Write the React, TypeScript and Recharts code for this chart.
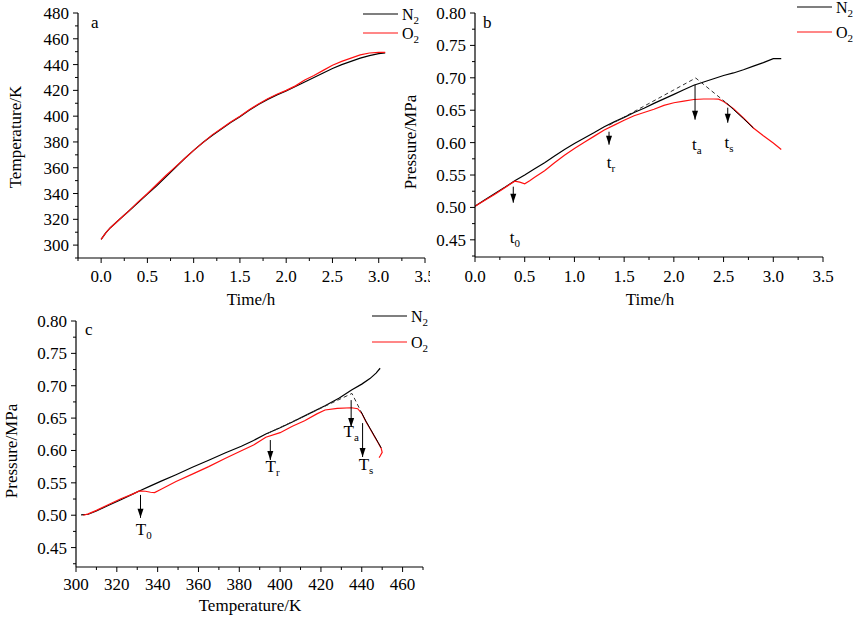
import React from 'react';
import { ComposedChart, Line, Scatter, XAxis, YAxis } from 'recharts';

const FONT = "'Liberation Serif', 'Times New Roman', serif";
const RED = '#ff1010';

// ---------- panel a: temperature vs time ----------
const timeA = [0, 0.05, 0.1, 0.2, 0.3, 0.4, 0.5, 0.6, 0.7, 0.8, 0.9, 1.0, 1.1, 1.2, 1.3, 1.4, 1.5, 1.6, 1.7, 1.8, 1.9, 2.0, 2.1, 2.2, 2.3, 2.4, 2.5, 2.6, 2.7, 2.8, 2.9, 3.0, 3.07];
const tempA_N2 = [304.4, 309.5, 313.5, 320, 326.5, 333, 339.5, 346, 353, 360, 367, 373.5, 379.5, 385, 390, 395, 399.5, 404.5, 409, 413, 416.5, 419.5, 423, 426.5, 430, 433.5, 437, 440, 442.5, 445, 447, 448.5, 449];
const tempA_O2 = [304.4, 309.5, 313.5, 320, 326.5, 333.5, 340, 347, 354, 360.5, 367, 373.5, 379.5, 385.5, 390.5, 395.5, 400, 405, 409.5, 413.5, 417, 420, 423.5, 428, 431.5, 435.5, 439.5, 442.5, 445, 447.5, 449, 449.5, 449.5];

// ---------- panel b: pressure vs time ----------
const timeB_N2 = [0, 0.1, 0.2, 0.3, 0.4, 0.5, 0.6, 0.7, 0.8, 0.9, 1.0, 1.1, 1.2, 1.3, 1.4, 1.5, 1.6, 1.7, 1.8, 1.9, 2.0, 2.1, 2.2, 2.3, 2.4, 2.5, 2.6, 2.7, 2.8, 2.9, 3.0, 3.08];
const presB_N2 = [0.502, 0.512, 0.5215, 0.531, 0.541, 0.55, 0.5595, 0.569, 0.5795, 0.5895, 0.5985, 0.607, 0.6155, 0.6245, 0.632, 0.639, 0.6465, 0.653, 0.6605, 0.6675, 0.6745, 0.6815, 0.6885, 0.6935, 0.6985, 0.7035, 0.7075, 0.7125, 0.718, 0.7235, 0.7295, 0.7295];
const timeB_O2 = [0, 0.1, 0.2, 0.3, 0.4, 0.45, 0.5, 0.55, 0.6, 0.7, 0.8, 0.9, 1.0, 1.1, 1.2, 1.3, 1.4, 1.5, 1.6, 1.7, 1.8, 1.9, 2.0, 2.1, 2.2, 2.3, 2.4, 2.45, 2.5, 2.6, 2.7, 2.8, 2.9, 3.0, 3.08];
const presB_O2 = [0.502, 0.511, 0.5205, 0.5305, 0.5405, 0.539, 0.5365, 0.541, 0.5465, 0.5565, 0.569, 0.5805, 0.591, 0.6005, 0.61, 0.6195, 0.627, 0.6345, 0.6415, 0.6465, 0.6515, 0.6575, 0.6615, 0.664, 0.6665, 0.6673, 0.6673, 0.667, 0.6635, 0.6525, 0.638, 0.6225, 0.6105, 0.5995, 0.5895];
const dashTimeB = [1.35, 2.22, 2.53];
const dashPresB = [0.627, 0.6997, 0.661];
const overTimeB = [2.53, 2.6, 2.7, 2.8];
const overPresB = [0.6611, 0.651, 0.637, 0.6225];
const arrowsB = [
  { x: 0.385, from: 0.532, to: 0.5073 },
  { x: 1.348, from: 0.6168, to: 0.5968 },
  { x: 2.213, from: 0.6893, to: 0.6354 },
  { x: 2.542, from: 0.6539, to: 0.6307 },
];
const labelsB = [
  { x: 0.402, y: 0.4456, main: 't', sub: '0' },
  { x: 1.368, y: 0.5613, main: 't', sub: 'r' },
  { x: 2.23, y: 0.589, main: 't', sub: 'a' },
  { x: 2.555, y: 0.5922, main: 't', sub: 's' },
];

// ---------- panel c: pressure vs temperature ----------
const tempC_N2 = [302.5, 306, 310, 316, 322, 328, 331, 336, 342, 349, 357, 365, 373, 381, 387, 393, 400, 406, 414, 422, 429, 435, 440, 444, 447, 449];
const presC_N2 = [0.5005, 0.5015, 0.5065, 0.5155, 0.524, 0.533, 0.5375, 0.5445, 0.553, 0.5625, 0.574, 0.585, 0.596, 0.6065, 0.6155, 0.6255, 0.635, 0.644, 0.6565, 0.669, 0.681, 0.6935, 0.7025, 0.711, 0.7195, 0.727];
const tempC_O2 = [303.5, 306, 310, 316, 322, 328, 331, 334, 336.5, 338.5, 341, 345, 349, 357, 365, 373, 381, 387, 393, 400, 406, 412, 418, 422, 428, 435, 438, 440, 442, 444, 446, 448, 449.5, 450, 449, 448.5];
const presC_O2 = [0.5, 0.502, 0.5075, 0.5165, 0.5255, 0.533, 0.5375, 0.537, 0.5355, 0.535, 0.539, 0.5455, 0.552, 0.5635, 0.575, 0.5875, 0.5995, 0.6085, 0.6205, 0.6275, 0.6375, 0.646, 0.6565, 0.6625, 0.665, 0.666, 0.6645, 0.6575, 0.645, 0.634, 0.623, 0.612, 0.6035, 0.597, 0.5915, 0.589];
const dashTempC = [394, 435.2, 439.7];
const dashPresC = [0.6265, 0.6881, 0.6597];
const overTempC = [439.7, 442, 444, 446, 448, 449.5];
const overPresC = [0.6597, 0.6455, 0.6345, 0.6235, 0.6125, 0.604];
const arrowsC = [
  { x: 331.6, from: 0.5314, to: 0.4959 },
  { x: 395.2, from: 0.6161, to: 0.5853 },
  { x: 434.8, from: 0.6778, to: 0.6362 },
  { x: 440.4, from: 0.6423, to: 0.5899 },
];
const labelsC = [
  { x: 333.2, y: 0.4697, main: 'T', sub: '0' },
  { x: 396.3, y: 0.5673, main: 'T', sub: 'r' },
  { x: 434.8, y: 0.6212, main: 'T', sub: 'a' },
  { x: 442.1, y: 0.5699, main: 'T', sub: 's' },
];

// ticks (every minor step; majors get labels)
const steps = (lo: number, hi: number, step: number) => {
  const out: number[] = [];
  for (let v = lo; v <= hi + step / 1000; v += step) out.push(Math.round(v * 1000) / 1000);
  return out;
};
const xTicksA = steps(-0.25, 3.5, 0.25);
const yTicksA = steps(290, 480, 10);
const xTicksB = steps(0, 3.5, 0.25);
const yTicksPres = steps(0.425, 0.8, 0.025);
const xTicksC = steps(300, 470, 10);

const pts = (xs: number[], ys: number[]) => xs.map((x, i) => ({ x, y: ys[i] }));
const isMajor = (v: number, m: number) => Math.abs(v / m - Math.round(v / m)) < 1e-6;

const makeXTick = (axisY: number, major: number, fmt: (v: number) => string, dy: number) => (p: any) => {
  const v = p.payload.value;
  const maj = isMajor(v, major);
  return (
    <g key={`x${v}`}>
      <line x1={p.x} x2={p.x} y1={axisY} y2={axisY + (maj ? 5 : 3)} stroke="#000" strokeWidth={1} />
      {maj && (
        <text x={p.x} y={axisY + dy} textAnchor="middle" fontSize={17} fontFamily={FONT} fill="#000">
          {fmt(v)}
        </text>
      )}
    </g>
  );
};

const makeYTick = (axisX: number, major: number, fmt: (v: number) => string) => (p: any) => {
  const v = p.payload.value;
  const maj = isMajor(v, major);
  return (
    <g key={`y${v}`}>
      <line x1={axisX} x2={axisX - (maj ? 5 : 3)} y1={p.y} y2={p.y} stroke="#000" strokeWidth={1} />
      {maj && (
        <text x={axisX - 9} y={p.y + 6} textAnchor="end" fontSize={17} fontFamily={FONT} fill="#000">
          {fmt(v)}
        </text>
      )}
    </g>
  );
};

const arrowDot = (p: any) => {
  if (p.index !== 1) return <g key={`d${p.index}`} />;
  return (
    <path
      key={`d${p.index}`}
      d={`M${p.cx},${p.cy} L${p.cx - 3},${p.cy - 9} L${p.cx + 3},${p.cy - 9} Z`}
      fill="#000"
    />
  );
};

const labelShape = (p: any) => (
  <text x={p.cx} y={p.cy} textAnchor="middle" fontSize={17} fontFamily={FONT} fill="#000">
    {p.payload.main}
    <tspan fontSize={11} dy={4}>{p.payload.sub}</tspan>
  </text>
);

interface PanelProps {
  left: number;
  top: number;
  width: number;
  height: number;
  mTop: number;
  mRight: number;
  yWidth: number;
  xHeight: number;
  xDomain: [number, number];
  yDomain: [number, number];
  xTicks: number[];
  yTicks: number[];
  xMajor: number;
  yMajor: number;
  xFmt: (v: number) => string;
  yFmt: (v: number) => string;
  xDy: number;
  children: React.ReactNode;
}

function Panel(p: PanelProps) {
  const axisY = p.height - p.xHeight;
  const axisX = p.yWidth;
  return (
    <div style={{ position: 'absolute', left: p.left, top: p.top }}>
      <ComposedChart
        width={p.width}
        height={p.height}
        margin={{ top: p.mTop, right: p.mRight, bottom: 0, left: 0 }}
      >
        <XAxis
          type="number"
          dataKey="x"
          domain={p.xDomain}
          allowDataOverflow
          ticks={p.xTicks}
          interval={0}
          height={p.xHeight}
          tickLine={false}
          axisLine={{ stroke: '#000', strokeWidth: 1.2 }}
          tick={makeXTick(axisY, p.xMajor, p.xFmt, p.xDy)}
        />
        <YAxis
          type="number"
          domain={p.yDomain}
          allowDataOverflow
          ticks={p.yTicks}
          interval={0}
          width={p.yWidth}
          tickLine={false}
          axisLine={{ stroke: '#000', strokeWidth: 1.2 }}
          tick={makeYTick(axisX, p.yMajor, p.yFmt)}
        />
        {p.children}
      </ComposedChart>
    </div>
  );
}

const series = (data: { x: number; y: number }[], color: string, key: string, dash?: string, w = 1.2) => (
  <Line
    key={key}
    data={data}
    dataKey="y"
    type="linear"
    stroke={color}
    strokeWidth={w}
    strokeDasharray={dash}
    dot={false}
    activeDot={false}
    isAnimationActive={false}
  />
);

const arrowLines = (arrows: { x: number; from: number; to: number }[], prefix: string) =>
  arrows.map((a, i) => (
    <Line
      key={`${prefix}${i}`}
      data={[{ x: a.x, y: a.from }, { x: a.x, y: a.to }]}
      dataKey="y"
      stroke="#000"
      strokeWidth={1}
      dot={arrowDot}
      activeDot={false}
      isAnimationActive={false}
    />
  ));

const Sub = ({ x, y, main, sub, size = 17 }: { x: number; y: number; main: string; sub: string; size?: number }) => (
  <text x={x} y={y} fontSize={size} fontFamily={FONT} fill="#000">
    {main}
    <tspan fontSize={11} dy={4}>{sub}</tspan>
  </text>
);

const LegendItem = ({ x, y, color, main }: { x: number; y: number; color: string; main: string }) => (
  <g>
    <line x1={x} x2={x + 35} y1={y} y2={y} stroke={color} strokeWidth={1.2} />
    <Sub x={x + 39} y={y + 6} main={main} sub="2" size={16} />
  </g>
);

const title = { fontSize: 17, fontFamily: FONT, fill: '#000' } as const;

export default function App() {
  return (
    <div style={{ position: 'absolute', left: 0, top: 0, width: 856, height: 620, background: '#fff', overflow: 'hidden' }}>
      <Panel
        left={0} top={0} width={430} height={310} mTop={13} mRight={5} yWidth={78} xHeight={52}
        xDomain={[-0.25, 3.5]} yDomain={[290, 480]} xTicks={xTicksA} yTicks={yTicksA}
        xMajor={0.5} yMajor={20} xFmt={(v) => v.toFixed(1)} yFmt={(v) => String(v)} xDy={24}
      >
        {series(pts(timeA, tempA_N2), '#000', 'aN2')}
        {series(pts(timeA, tempA_O2), RED, 'aO2')}
      </Panel>

      <Panel
        left={430} top={0} width={426} height={310} mTop={13} mRight={33} yWidth={45} xHeight={53}
        xDomain={[0, 3.5]} yDomain={[0.4235, 0.8]} xTicks={xTicksB} yTicks={yTicksPres}
        xMajor={0.5} yMajor={0.05} xFmt={(v) => v.toFixed(1)} yFmt={(v) => v.toFixed(2)} xDy={25}
      >
        {series(pts(timeB_N2, presB_N2), '#000', 'bN2')}
        {series(pts(timeB_O2, presB_O2), RED, 'bO2')}
        {series(pts(dashTimeB, dashPresB), '#333', 'bDash', '4 3', 1)}
        {series(pts(overTimeB, overPresB), '#000', 'bOver', undefined, 1)}
        {arrowLines(arrowsB, 'bArr')}
        <Scatter data={labelsB} dataKey="y" shape={labelShape} isAnimationActive={false} />
      </Panel>

      <Panel
        left={0} top={300} width={430} height={320} mTop={21} mRight={7} yWidth={76} xHeight={53}
        xDomain={[300, 470]} yDomain={[0.42, 0.8]} xTicks={xTicksC} yTicks={yTicksPres}
        xMajor={20} yMajor={0.05} xFmt={(v) => String(v)} yFmt={(v) => v.toFixed(2)} xDy={23}
      >
        {series(pts(tempC_N2, presC_N2), '#000', 'cN2')}
        {series(pts(tempC_O2, presC_O2), RED, 'cO2')}
        {series(pts(dashTempC, dashPresC), '#333', 'cDash', '4 3', 1)}
        {series(pts(overTempC, overPresC), '#000', 'cOver', undefined, 1)}
        {arrowLines(arrowsC, 'cArr')}
        <Scatter data={labelsC} dataKey="y" shape={labelShape} isAnimationActive={false} />
      </Panel>

      <svg width={856} height={620} style={{ position: 'absolute', left: 0, top: 0, pointerEvents: 'none' }}>
        {/* panel letters */}
        <text x={91} y={28} {...title}>a</text>
        <text x={483} y={28} {...title}>b</text>
        <text x={85} y={335} {...title}>c</text>

        {/* axis titles */}
        <text transform="translate(21,137) rotate(-90)" textAnchor="middle" {...title}>Temperature/K</text>
        <text x={251} y={305} textAnchor="middle" {...title}>Time/h</text>
        <text transform="translate(416,142) rotate(-90)" textAnchor="middle" {...title}>Pressure/MPa</text>
        <text x={650} y={305} textAnchor="middle" {...title}>Time/h</text>
        <text transform="translate(17,451) rotate(-90)" textAnchor="middle" {...title}>Pressure/MPa</text>
        <text x={250} y={611} textAnchor="middle" {...title}>Temperature/K</text>

        {/* legends */}
        <LegendItem x={363} y={14} color="#000" main="N" />
        <LegendItem x={363} y={33} color={RED} main="O" />
        <LegendItem x={797} y={7} color="#000" main="N" />
        <LegendItem x={797} y={32} color={RED} main="O" />
        <LegendItem x={372} y={316} color="#000" main="N" />
        <LegendItem x={372} y={342} color={RED} main="O" />
      </svg>
    </div>
  );
}
